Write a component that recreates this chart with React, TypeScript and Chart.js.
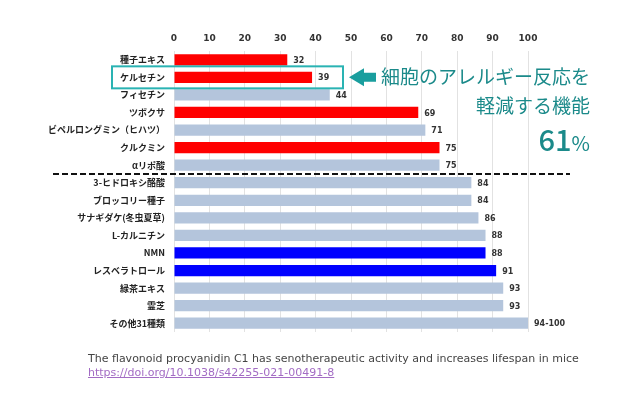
import React, { useEffect, useRef } from "react";
import { Chart, registerables } from "chart.js";

Chart.register(...registerables);

const categories = [
  "種子エキス",
  "ケルセチン",
  "フィセチン",
  "ツボクサ",
  "ビペルロングミン（ヒハツ）",
  "クルクミン",
  "αリポ酸",
  "3-ヒドロキシ酪酸",
  "ブロッコリー種子",
  "サナギダケ(冬虫夏草)",
  "L-カルニチン",
  "NMN",
  "レスベラトロール",
  "緑茶エキス",
  "霊芝",
  "その他31種類",
];
const values = [32, 39, 44, 69, 71, 75, 75, 84, 84, 86, 88, 88, 91, 93, 93, 100];
const valueLabels = ["32", "39", "44", "69", "71", "75", "75", "84", "84", "86", "88", "88", "91", "93", "93", "94-100"];
const groups = ["red", "red", "gray", "red", "gray", "red", "gray", "gray", "gray", "gray", "gray", "blue", "blue", "gray", "gray", "gray"];
const xTicks = [0, 10, 20, 30, 40, 50, 60, 70, 80, 90, 100];

const RED = "#ff0000";
const BLUE = "#0000ff";
const GRAY = "#b4c5dc";
const TEAL = "#1a9e9e";
const TEAL_TEXT = "#1b8a8a";

export default function App() {
  const ref = useRef<HTMLCanvasElement | null>(null);

  useEffect(() => {
    const canvas = ref.current;
    if (!canvas) return;
    const colors = groups.map((g) => (g === "red" ? RED : g === "blue" ? BLUE : GRAY));

    const overlay = {
      id: "overlay",
      afterDatasetsDraw(chart: any) {
        const ctx = chart.ctx;
        const meta = chart.getDatasetMeta(0);
        ctx.save();
        ctx.font = "bold 8px 'DejaVu Sans', sans-serif";
        ctx.fillStyle = "#333";
        ctx.textAlign = "left";
        ctx.textBaseline = "middle";
        meta.data.forEach((bar: any, i: number) => {
          ctx.fillText(valueLabels[i], bar.x + 6, bar.y + 1);
        });

        const y = chart.scales.y;
        const x = chart.scales.x;
        // dashed separator between αリポ酸 and 3-ヒドロキシ酪酸
        const sepY = (y.getPixelForValue(6) + y.getPixelForValue(7)) / 2;
        ctx.strokeStyle = "#111";
        ctx.lineWidth = 2;
        ctx.setLineDash([6, 3]);
        ctx.beginPath();
        ctx.moveTo(53, sepY);
        ctx.lineTo(x.getPixelForValue(100) + 42, sepY);
        ctx.stroke();
        ctx.setLineDash([]);

        // highlight box around ケルセチン
        const qy = y.getPixelForValue(1);
        ctx.strokeStyle = "#2ab3b3";
        ctx.lineWidth = 2;
        ctx.strokeRect(112, qy - 11, 231, 22);

        // arrow
        ctx.fillStyle = TEAL;
        ctx.beginPath();
        ctx.moveTo(349, qy);
        ctx.lineTo(364, qy - 9);
        ctx.lineTo(364, qy - 4.5);
        ctx.lineTo(376, qy - 4.5);
        ctx.lineTo(376, qy + 4.5);
        ctx.lineTo(364, qy + 4.5);
        ctx.lineTo(364, qy + 9);
        ctx.closePath();
        ctx.fill();
        ctx.restore();
      },
    };

    const chart = new Chart(canvas, {
      type: "bar",
      data: {
        labels: categories,
        datasets: [
          {
            data: values,
            backgroundColor: colors,
            borderWidth: 0,
            categoryPercentage: 1,
            barPercentage: 0.64,
          },
        ],
      },
      options: {
        indexAxis: "y",
        animation: false,
        responsive: false,
        layout: { padding: { left: 0, right: 102, top: 0, bottom: 61 } },
        plugins: { legend: { display: false }, tooltip: { enabled: false } },
        scales: {
          x: {
            position: "top",
            min: 0,
            max: 100,
            afterBuildTicks: (scale: any) => {
              scale.ticks = xTicks.map((v) => ({ value: v }));
            },
            afterFit: (scale: any) => {
              scale.height = 51;
            },
            ticks: {
              padding: 7,
              color: "#333",
              font: { family: "'DejaVu Sans', sans-serif", size: 9, weight: "bold" },
            },
            grid: { color: "#e2e2e2", drawTicks: false },
            border: { display: false },
          },
          y: {
            afterFit: (scale: any) => {
              scale.width = 174;
            },
            ticks: {
              padding: 9,
              color: "#222",
              font: { family: "'Noto Sans CJK JP', sans-serif", size: 9, weight: "bold" },
            },
            grid: { display: false, drawTicks: false },
            border: { display: false },
          },
        },
      },
      plugins: [overlay],
    });
    return () => chart.destroy();
  }, []);

  return (
    <div style={{ position: "absolute", left: 0, top: 0, width: 630, height: 393, background: "#fff", overflow: "hidden" }}>
      <canvas ref={ref} width={630} height={393} style={{ position: "absolute", left: 0, top: 0 }} />
      <div
        style={{
          position: "absolute",
          right: 40,
          top: 61,
          textAlign: "right",
          color: TEAL_TEXT,
          fontFamily: "'Noto Sans CJK JP', sans-serif",
          lineHeight: "29px",
          fontSize: 19,
        }}
      >
        <div>細胞のアレルギー反応を</div>
        <div>軽減する機能</div>
        <div style={{ fontSize: 29, fontWeight: 500, lineHeight: "38px", fontFamily: "'Noto Sans CJK JP', sans-serif" }}>
          61<span style={{ fontSize: 20, fontWeight: 400 }}>%</span>
        </div>
      </div>
      <div
        style={{
          position: "absolute",
          left: 88,
          top: 352,
          fontFamily: "'DejaVu Sans', sans-serif",
          fontSize: 11,
          lineHeight: "14px",
          color: "#444",
          whiteSpace: "nowrap",
        }}
      >
        <div>The flavonoid procyanidin C1 has senotherapeutic activity and increases lifespan in mice</div>
        <a href="https://doi.org/10.1038/s42255-021-00491-8" style={{ color: "#a36cc4" }}>
          https://doi.org/10.1038/s42255-021-00491-8
        </a>
      </div>
    </div>
  );
}
